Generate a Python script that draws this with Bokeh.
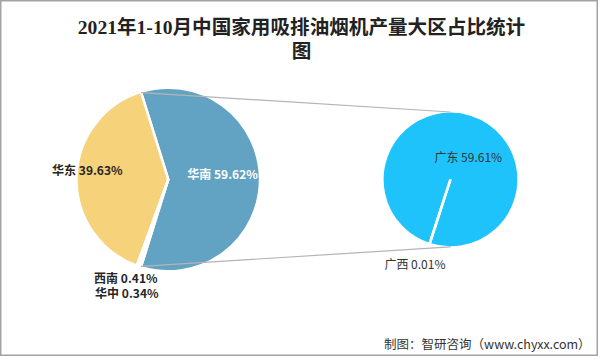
import math
from bokeh.plotting import figure
from bokeh.models import Range1d, ColumnDataSource
from bokeh.core.properties import value
from bokeh.embed import file_html
from bokeh.resources import INLINE

# ---------------- data ----------------
title_lines = ["2021年1-10月中国家用吸排油烟机产量大区占比统计", "图"]
main_names = ["华南", "华东", "西南", "华中"]
main_values = [59.62, 39.63, 0.41, 0.34]
main_colors = ["#62A3C3", "#F6D27A", "#E9E9E9", "#E2E2E2"]
sub_names = ["广东", "广西"]
sub_values = [59.61, 0.01]
sub_colors = ["#1FC3FC", "#1FC3FC"]
source_text = "制图：智研咨询（www.chyxx.com）"

# ---------------- layout ----------------
W, H = 598, 356
def Y(ref_y):
    return 364 - ref_y

CJK = "Noto Sans CJK SC"

p = figure(width=W, height=H, output_backend="svg", toolbar_location=None,
           x_range=Range1d(0, 606), y_range=Range1d(0, 364), min_border=0)
p.axis.visible = False
p.grid.visible = False
p.outline_line_color = "#A3A3A3"
p.outline_line_width = 2
p.background_fill_color = "white"
p.border_fill_color = "white"

# left pie
cx1, cy1, r1 = 170, Y(183), 93
tot1 = sum(main_values)
start = -main_values[0] / tot1 * math.pi
starts, ends = [], []
a = start
for v in main_values:
    starts.append(a)
    a += v / tot1 * 2 * math.pi
    ends.append(a)
src1 = ColumnDataSource(dict(start=starts, end=ends, color=main_colors,
                             x=[cx1] * 4, y=[cy1] * 4))
p.wedge(x="x", y="y", radius=r1, start_angle="start", end_angle="end",
        fill_color="color", line_color="white", line_width=2.5, source=src1)

# right pie
cx2, cy2, r2 = 456, Y(183), 69
tot2 = sum(sub_values)
line_angle = math.radians(252)  # position of the small slice
s_starts, s_ends = [], []
a = line_angle + sub_values[1] / tot2 * 2 * math.pi
for v in sub_values:
    s_starts.append(a)
    a += v / tot2 * 2 * math.pi
    s_ends.append(a)
src2 = ColumnDataSource(dict(start=s_starts, end=s_ends, color=sub_colors,
                             x=[cx2] * 2, y=[cy2] * 2))
p.wedge(x="x", y="y", radius=r2, start_angle="start", end_angle="end",
        fill_color="color", line_color="white", line_width=2.5, source=src2)

# connector lines
edge = main_values[0] / tot1 * math.pi
for sgn in (1, -1):
    x0 = cx1 + r1 * math.cos(sgn * edge)
    y0 = cy1 + r1 * math.sin(sgn * edge)
    p.line([x0, cx2], [y0, cy2 + sgn * r2], line_color="#B4B4B4", line_width=1.2)

def lab(n, v):
    return f"{n} {v:.2f}%"

# left pie labels
p.text(x=[225], y=[Y(177)], text=[lab(main_names[0], main_values[0])],
       text_font=value(CJK), text_font_size="12px", text_font_style="bold",
       text_color="white", text_align="center", text_baseline="middle")
p.text(x=[88], y=[Y(173)], text=[lab(main_names[1], main_values[1])],
       text_font=value(CJK), text_font_size="12px", text_font_style="bold",
       text_color="#262626", text_align="center", text_baseline="middle")
p.text(x=[127, 128], y=[Y(283), Y(299)],
       text=[lab(main_names[2], main_values[2]), lab(main_names[3], main_values[3])],
       text_font=value(CJK), text_font_size="12px", text_font_style="bold",
       text_color="#262626", text_align="center", text_baseline="middle")

# right pie labels
p.text(x=[474, 420], y=[Y(160), Y(269)],
       text=[lab(sub_names[0], sub_values[0]), lab(sub_names[1], sub_values[1])],
       text_font=value(CJK), text_font_size="12px",
       text_color="#333333", text_align="center", text_baseline="middle")

# title
p.text(x=[305, 305], y=[Y(28), Y(52)], text=title_lines,
       text_font=value("Liberation Serif, Noto Sans CJK SC"), text_font_size="19.6px",
       text_font_style="bold",
       text_color="#222222", text_align="center", text_baseline="middle")

# source
p.text(x=[598], y=[Y(351)], text=[source_text],
       text_font=value(CJK), text_font_size="12.5px",
       text_color="#333333", text_align="right", text_baseline="middle")

open("out.html", "w").write(file_html(p, INLINE))
